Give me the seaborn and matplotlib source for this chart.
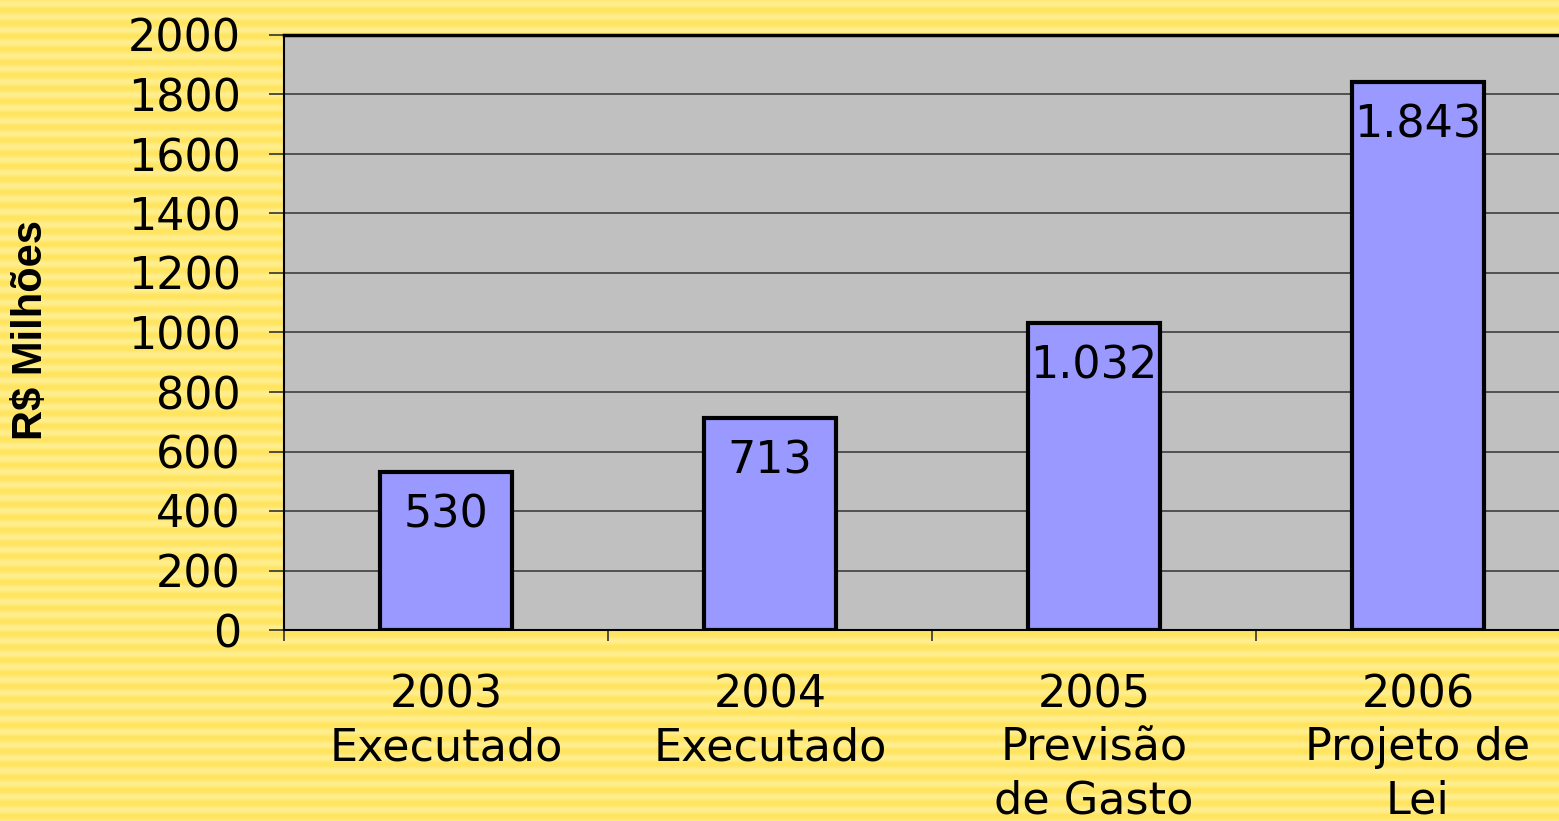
import numpy as np
import pandas as pd
import matplotlib
matplotlib.use("Agg")
import matplotlib.pyplot as plt
import seaborn as sns

# ── Données ──────────────────────────────────────────────────────────────────
categorias = ["2003\nExecutado", "2004\nExecutado", "2005\nPrevisão\nde Gasto", "2006\nProjeto de\nLei"]
valores = [530, 713, 1032, 1843]
rotulos = ["530", "713", "1.032", "1.843"]
yticks = [0, 200, 400, 600, 800, 1000, 1200, 1400, 1600, 1800, 2000]

df = pd.DataFrame({"cat": categorias, "valor": valores})

sns.set_style("white")
plt.rcParams["font.family"] = ["DejaVu Sans"]
plt.rcParams["text.color"] = "black"
plt.rcParams["xtick.color"] = "black"
plt.rcParams["ytick.color"] = "black"
plt.rcParams["xtick.labelcolor"] = "black"
plt.rcParams["ytick.labelcolor"] = "black"

W, H, DPI = 1559, 821, 100
fig = plt.figure(figsize=(W / DPI, H / DPI), dpi=DPI)
fig.patch.set_facecolor("#FFE45C")

# ── Fundo amarelo listrado ───────────────────────────────────────────────────
c1 = np.array([1.0, 0.895, 0.37])
c2 = np.array([1.0, 0.935, 0.56])
rows = (np.sin(np.arange(H) * 2 * np.pi / 13.0) + 1) / 2
bg = c1[None, None, :] + (c2 - c1)[None, None, :] * rows[:, None, None]
bg = np.repeat(bg, 4, axis=1)
bgax = fig.add_axes([0, 0, 1, 1], zorder=-1)
bgax.imshow(bg, aspect="auto", interpolation="bilinear")
bgax.axis("off")

# ── Eixo principal ───────────────────────────────────────────────────────────
ax = fig.add_axes([284 / W, 1 - 630 / H, 1296 / W, 595 / H], zorder=1)
ax.set_facecolor("#C0C0C0")

sns.barplot(data=df, x="cat", y="valor", color="#9999FF", width=0.41,
            edgecolor="black", linewidth=3, saturation=1, ax=ax, zorder=3)

ax.set_xlim(-0.5, 3.5)
ax.set_ylim(0, 2000)
ax.set_yticks(yticks)
ax.set_yticklabels([str(t) for t in yticks])
ax.yaxis.grid(True, color="#333333", linewidth=1.1, zorder=1)
ax.set_axisbelow(True)

# rótulos de valor dentro das barras
for p, txt in zip(ax.patches, rotulos):
    ax.annotate(txt, (p.get_x() + p.get_width() / 2, p.get_height()),
                xytext=(0, -31), textcoords="offset points",
                ha="center", va="center", fontsize=32, color="black", zorder=5)

# ticks
ax.tick_params(axis="y", which="major", left=True, length=11, width=1.2,
               color="#333333", pad=20, labelsize=32, direction="out")
ax.tick_params(axis="x", which="major", length=0, pad=31, labelsize=32)
ax.set_xticks(range(len(categorias)))
ax.set_xticklabels(categorias, linespacing=1.3)
ax.set_xticks([-0.5, 0.5, 1.5, 2.5], minor=True)
ax.tick_params(axis="x", which="minor", bottom=True, length=8, width=1.2,
               color="#333333", direction="out")

for s in ["left", "bottom", "top"]:
    ax.spines[s].set_visible(True)
    ax.spines[s].set_color("black")
ax.spines["left"].set_linewidth(1.5)
ax.spines["bottom"].set_linewidth(1.5)
ax.spines["top"].set_linewidth(2.5)
ax.spines["right"].set_visible(False)

ax.set_xlabel("")
ax.set_ylabel("")
fig.text(31 / W, 1 - 330 / H, "R$ Milhões", rotation=90, ha="center", va="center",
         fontsize=30, fontweight="bold", color="black",
         family=["Liberation Sans", "DejaVu Sans"])

fig.savefig("out.png", dpi=DPI, facecolor=fig.get_facecolor())
